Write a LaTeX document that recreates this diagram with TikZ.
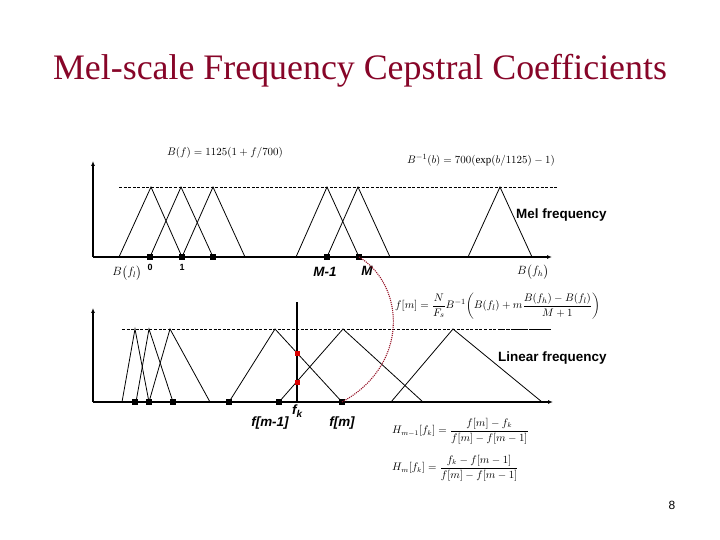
\documentclass[tikz,border=0pt]{standalone}
\usepackage{amsmath}
\usepackage{fontspec}
\setmainfont{Liberation Serif}
\newfontfamily\arial{Liberation Sans}
\usetikzlibrary{arrows.meta}
\definecolor{titlered}{RGB}{135,5,40}
\definecolor{curvered}{RGB}{150,20,40}
\begin{document}
\begin{tikzpicture}[x=1bp,y=-1bp,
  axisline/.style={line width=1.1pt,-{Latex[length=5pt,width=4pt]}},
  tri/.style={line width=0.8pt},
  mk/.style={rectangle,fill=black,inner sep=0pt,minimum size=5.5bp},
  rdot/.style={rectangle,fill=red!85!black,inner sep=0pt,minimum size=5bp},
  guide/.style={dashed,dash pattern=on 3pt off 1.6pt,line width=0.6pt},
  lab/.style={font=\arial\bfseries\fontsize{13.5}{15}\selectfont,inner sep=0pt},
  ilab/.style={font=\arial\bfseries\itshape\fontsize{13.5}{15}\selectfont,inner sep=0pt},
  frm/.style={font=\fontsize{11}{13}\selectfont,inner sep=0pt},
]
\useasboundingbox (0,0) rectangle (720,540);
% title
\node[font=\fontsize{36}{42}\selectfont,text=titlered,anchor=base] (title) at (360,80) {Mel-scale Frequency Cepstral Coefficients};

% ===== upper plot =====
\coordinate (uo) at (93,257);
\coordinate (uy) at (93,161);
\coordinate (ux) at (552,257);
\draw[axisline] (uo) -- (uy);
\draw[axisline] (uo) -- (ux);
\coordinate (ud1) at (119,187);
\coordinate (ud2) at (557,187);
\draw[guide] (ud1) -- (ud2);
\draw[line width=2.2pt] (175,257) -- (203,257);
\draw[tri] (119,257) -- (151,187) -- (182,257);
\draw[tri] (150,257) -- (181,187) -- (213,257);
\draw[tri] (182,257) -- (213,187) -- (245,257);
\draw[tri] (296,257) -- (327,187) -- (359,257);
\draw[tri] (327,257) -- (358,187) -- (390,257);
\draw[tri] (468,257) -- (500,187) -- (532,257);
\node[mk] (u0) at (150,257) {};
\node[mk] (u1) at (182,257) {};
\node[mk] (u2) at (213,257) {};
\node[mk] (uM1) at (327,257) {};
\node[mk] (uM) at (359,257) {};
\node[lab,font=\arial\bfseries\fontsize{9}{11}\selectfont] (l0) at (150,267) {0};
\node[lab,font=\arial\bfseries\fontsize{9}{11}\selectfont] (l1) at (182,267) {1};
\node[ilab] (lM1) at (325,272) {M-1};
\node[ilab] (lM) at (367,271) {M};
\node[frm,font=\fontsize{12}{14}\selectfont] (bfl) at (127,273) {$B\bigl(f_l\bigr)$};
\node[frm,font=\fontsize{12}{14}\selectfont] (bfh) at (533,272) {$B\bigl(f_h\bigr)$};
\node[frm] (eqB) at (225,153) {$B(f)=1125(1+f/700)$};
\node[frm] (eqBi) at (481,160) {$B^{-1}(b)=700(\exp(b/1125)-1)$};
\node[lab,anchor=west] (mel) at (516,215) {Mel frequency};

% ===== lower plot =====
\coordinate (lo) at (93,402);
\coordinate (ly) at (93,308);
\coordinate (lx) at (553,402);
\draw[axisline] (lo) -- (ly);
\draw[axisline] (lo) -- (lx);
\coordinate (ld1) at (122,329);
\coordinate (ld2) at (550,329);
\draw[guide] (ld1) -- (ld2);
\draw[line width=1pt,dash pattern=on 2pt off 0.6pt] (498,329) -- (550,329);
\draw[tri] (122,402) -- (135,329) -- (149,402);
\draw[tri] (136,402) -- (149,329) -- (173,402);
\draw[tri] (149,402) -- (170,329) -- (210,402);
\draw[tri] (229,402) -- (275,329) -- (342,402);
\draw[tri] (279,402) -- (343,329) -- (423,402);
\draw[tri] (391,402) -- (453,329) -- (542,402);
\node[mk] (d0) at (135,402) {};
\node[mk] (d1) at (149,402) {};
\node[mk] (d2) at (173,402) {};
\node[mk] (d3) at (229,402) {};
\node[mk] (dm1) at (279,402) {};
\node[mk] (dm) at (342,402) {};
\coordinate (fktop) at (297,302);
\coordinate (fkbot) at (297,402);
\draw[line width=1.6pt] (fktop) -- (fkbot);
\node[rdot] (r1) at (297,353) {};
\node[rdot] (r2) at (297,382) {};
\node[ilab] (lfm1) at (270,423) {f[m-1]};
\node[ilab,anchor=base west] (lfk) at (292,414) {f\raisebox{-3.5pt}{\fontsize{10}{11}\selectfont k}};
\node[ilab] (lfm) at (342,423) {f[m]};
\node[lab,anchor=west] (lin) at (498,358) {Linear frequency};
\node[frm,anchor=west] (eqf) at (395,306) {$f[m]=\dfrac{N}{F_s}B^{-1}\!\left(B(f_l)+m\dfrac{B(f_h)-B(f_l)}{M+1}\right)$};
\node[frm,font=\fontsize{10.5}{12}\selectfont,anchor=west] (eqH1) at (392,431) {$H_{m-1}[f_k]=\dfrac{f[m]-f_k}{f[m]-f[m-1]}$};
\node[frm,font=\fontsize{10.5}{12}\selectfont,anchor=west] (eqH2) at (392,468) {$H_{m}[f_k]=\dfrac{f_k-f[m-1]}{f[m]-f[m-1]}$};

% red dotted mapping curve
\draw[curvered,densely dotted,line width=1.1pt] (uM.center) .. controls (405,285) and (410,365) .. (dm.center);

% page number
\node[font=\arial\fontsize{12}{14}\selectfont] (pg) at (672,505) {8};
\end{tikzpicture}
\end{document}
